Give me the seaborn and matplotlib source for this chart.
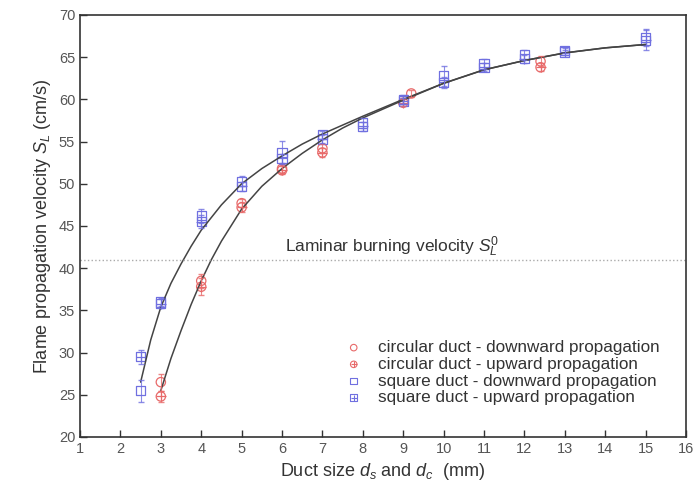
import matplotlib
matplotlib.use('Agg')
import matplotlib.pyplot as plt
import seaborn as sns
import pandas as pd
import numpy as np
from matplotlib.legend_handler import HandlerTuple

# measured points
circ_down_x = [3, 4, 5, 6, 7, 9.2, 12.4]
circ_down_y = [26.5, 38.5, 47.7, 51.8, 54.2, 60.7, 64.5]
circ_down_err = [1.0, 0.8, 0.5, 0.5, 0.5, 0.4, 0.6]

circ_up_x = [3, 4, 5, 6, 7, 9, 12.4]
circ_up_y = [24.8, 37.8, 47.2, 51.6, 53.7, 59.6, 63.8]
circ_up_err = [0.6, 1.0, 0.6, 0.5, 0.5, 0.4, 0.5]

sq_down_x = [2.5, 3, 4, 5, 6, 7, 8, 9, 10, 11, 12, 13, 15]
sq_down_y = [25.5, 36.0, 46.2, 50.3, 53.7, 55.8, 57.2, 60.0, 62.8, 64.2, 65.3, 65.8, 67.3]
sq_down_err = [1.3, 0.5, 0.8, 0.6, 1.4, 0.5, 0.6, 0.5, 1.2, 0.6, 0.6, 0.3, 1.0]

sq_up_x = [2.5, 3, 4, 5, 6, 7, 8, 9, 10, 11, 12, 13, 15]
sq_up_y = [29.5, 35.8, 45.5, 49.7, 53.0, 55.3, 56.8, 59.8, 62.0, 63.8, 64.8, 65.6, 67.0]
sq_up_err = [0.8, 0.5, 0.8, 0.5, 0.5, 0.5, 0.5, 0.4, 0.6, 0.5, 0.5, 0.3, 1.2]

# fitted curves
fit_sq_x = [2.5, 2.75, 3, 3.25, 3.5, 3.75, 4, 4.5, 5, 5.5, 6, 6.5, 7, 8, 9, 10, 11, 12, 13, 14, 15]
fit_sq_y = [26.5, 31.5, 35.4, 38.2, 40.5, 42.6, 44.5, 47.5, 50.0, 51.8, 53.3, 54.7, 55.9, 58.0, 60.0, 61.9, 63.5, 64.6, 65.5, 66.1, 66.5]
fit_circ_x = [3, 3.25, 3.5, 3.75, 4, 4.25, 4.5, 5, 5.5, 6, 6.5, 7, 7.5, 8, 9, 10, 11, 12, 13, 14, 15]
fit_circ_y = [25.5, 29.3, 32.6, 35.7, 38.5, 41.0, 43.2, 47.0, 49.7, 51.8, 53.6, 55.2, 56.6, 57.8, 59.9, 61.9, 63.5, 64.6, 65.5, 66.1, 66.5]

laminar = 41.0

red = '#e86a6a'
blue = '#7070e0'

sns.set_style('ticks')
plt.rcParams['font.family'] = ['Liberation Sans', 'DejaVu Sans']
plt.rcParams['mathtext.fontset'] = 'custom'
plt.rcParams['mathtext.it'] = 'Liberation Sans:italic'
plt.rcParams['mathtext.rm'] = 'Liberation Sans'

fig = plt.figure(figsize=(6.96, 4.98), dpi=100)
ax = fig.add_axes([0.115, 0.1225, 0.8706, 0.8475])

sns.lineplot(x=fit_sq_x, y=fit_sq_y, ax=ax, color='#444444', lw=1.1, sort=False)
sns.lineplot(x=fit_circ_x, y=fit_circ_y, ax=ax, color='#444444', lw=1.1, sort=False)

ax.axhline(laminar, color='#aaaaaa', ls=':', lw=1.0)
ax.text(6.07, laminar + 1.55, r'Laminar burning velocity $S_L^0$', fontsize=12.5, color='#333333', va='center')

series = [
    (circ_down_x, circ_down_y, circ_down_err, red, 'o', False, 'circular duct - downward propagation'),
    (circ_up_x, circ_up_y, circ_up_err, red, 'o', True, 'circular duct - upward propagation'),
    (sq_down_x, sq_down_y, sq_down_err, blue, 's', False, 'square duct - downward propagation'),
    (sq_up_x, sq_up_y, sq_up_err, blue, 's', True, 'square duct - upward propagation'),
]
handles = []
labels = []
for xs, ys, es, c, m, crossed, lab in series:
    ax.errorbar(xs, ys, yerr=es, fmt='none', ecolor=c, elinewidth=0.8, capsize=2.5, alpha=0.8)
    df = pd.DataFrame({'x': xs, 'y': ys})
    sns.scatterplot(data=df, x='x', y='y', ax=ax, marker=m, s=45, facecolor='none',
                    edgecolor=c, linewidth=0.9)
    h1 = ax.scatter([], [], marker=m, s=22, facecolor='none', edgecolor=c, linewidth=0.8)
    if crossed:
        sns.scatterplot(data=df, x='x', y='y', ax=ax, marker='+', s=45, color=c, linewidth=0.9)
        h2 = ax.scatter([], [], marker='+', s=22, color=c, linewidth=0.8)
        handles.append((h1, h2))
    else:
        handles.append(h1)
    labels.append(lab)

ax.legend(handles, labels, handler_map={tuple: HandlerTuple(ndivide=1, pad=0)},
          loc='lower right', bbox_to_anchor=(0.97, 0.055), frameon=False, fontsize=12.3,
          handletextpad=0.9, labelspacing=0.1, handlelength=1.0, borderpad=0,
          labelcolor='#333333')

ax.set_xlim(1, 16)
ax.set_ylim(20, 70)
ax.set_xticks(range(1, 17))
ax.set_yticks(range(20, 71, 5))
ax.tick_params(direction='in', length=5, width=1, labelsize=10.5, labelcolor='#555555', color='#333333')
for s in ax.spines.values():
    s.set_color('#333333')
    s.set_linewidth(1.2)
ax.set_xlabel(r'Duct size $d_s$ and $d_c$  (mm)', fontsize=13, color='#333333')
ax.set_ylabel(r'Flame propagation velocity $S_L$ (cm/s)', fontsize=13, color='#333333')

fig.savefig('out.png', dpi=100)
